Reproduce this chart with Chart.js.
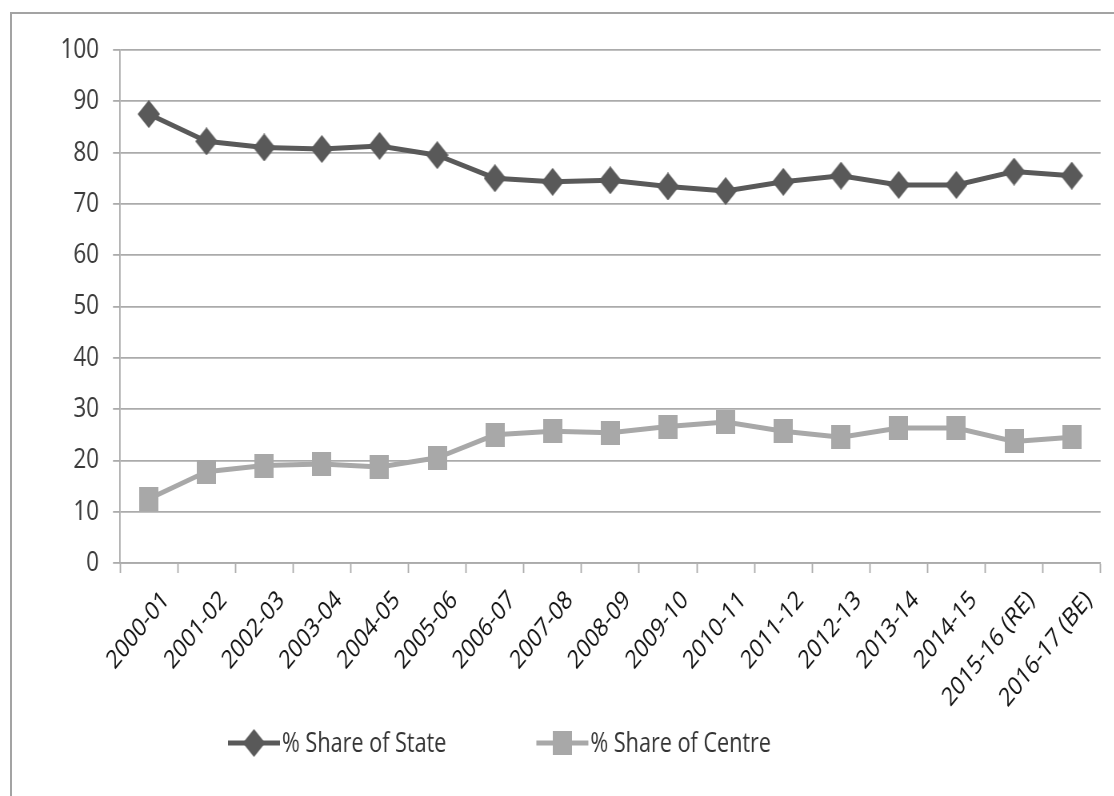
<!DOCTYPE html>
<html>
<head>
<meta charset="utf-8">
<script src="https://cdn.jsdelivr.net/npm/chart.js@4.4.1/dist/chart.umd.min.js"></script>
<style>
  html, body { margin: 0; padding: 0; background: #ffffff; }
  #wrap { position: relative; width: 1114px; height: 796px; overflow: hidden; }
  #frame { position: absolute; left: 10px; top: 12px; right: -10px; bottom: -10px;
           border-top: 2px solid #a3a3a3; border-left: 2px solid #a3a3a3; }
  /* the chart is laid out on a wider canvas and squeezed horizontally,
     which gives the tall, condensed lettering and markers */
  #squeeze { position: absolute; left: 0; top: 0; width: 1392px; height: 796px;
             transform: scaleX(0.8); transform-origin: 0 0; }
  #c { display: block; }
</style>
</head>
<body>
<div id="wrap">
  <div id="frame"></div>
  <div id="squeeze"><canvas id="c" width="1392" height="796"></canvas></div>
</div>
<script>
// Financial years on the category axis
const years = ['2000-01', '2001-02', '2002-03', '2003-04', '2004-05', '2005-06',
  '2006-07', '2007-08', '2008-09', '2009-10', '2010-11', '2011-12', '2012-13',
  '2013-14', '2014-15', '2015-16 (RE)', '2016-17 (BE)'];

// Percentage shares of spending
const stateShare  = [87.5, 82.2, 81.0, 80.7, 81.3, 79.5, 75.0, 74.3, 74.6, 73.4, 72.5, 74.3, 75.5, 73.7, 73.7, 76.3, 75.5];
const centreShare = [12.5, 17.8, 19.0, 19.3, 18.7, 20.5, 25.0, 25.7, 25.4, 26.6, 27.5, 25.7, 24.5, 26.3, 26.3, 23.7, 24.5];

// Value axis
const yMin = 0, yMax = 100, yStep = 10;

const seriesNames = ['% Share of State', '% Share of Centre'];

const SX = 0.8;                 // horizontal squeeze applied by CSS
const px = v => v / SX;         // horizontal page pixels -> canvas pixels

const FONT = '"Open Sans", "Noto Sans", sans-serif';
const STATE_COL = '#595959';
const CENTRE_COL = '#a8a8a8';
const GRID_COL = '#ababab';

// Marker sprites: a diamond and a square (in canvas pixels)
function diamondSprite(w, h, color) {
  const cv = document.createElement('canvas');
  cv.width = w; cv.height = h;
  const g = cv.getContext('2d');
  g.fillStyle = color;
  g.beginPath();
  g.moveTo(w / 2, 0); g.lineTo(w, h / 2); g.lineTo(w / 2, h); g.lineTo(0, h / 2);
  g.closePath(); g.fill();
  return cv;
}
function squareSprite(w, h, color) {
  const cv = document.createElement('canvas');
  cv.width = w; cv.height = h;
  const g = cv.getContext('2d');
  g.fillStyle = color;
  g.fillRect(0, 0, w, h);
  return cv;
}
const diamond = diamondSprite(Math.round(px(22)), 28, STATE_COL);
const square = squareSprite(Math.round(px(19)), 24, CENTRE_COL);

// Legend drawn as line sample + marker + label, below the category labels
const lineLegend = {
  id: 'lineLegend',
  afterDraw(chart) {
    const ctx = chart.ctx;
    const y = 743;
    let x = px(228);
    const sample = px(52);
    ctx.save();
    ctx.font = '27px ' + FONT;
    ctx.textBaseline = 'middle';
    ctx.textAlign = 'left';
    chart.data.datasets.forEach((ds) => {
      ctx.strokeStyle = ds.borderColor;
      ctx.lineWidth = ds.borderWidth;
      ctx.beginPath();
      ctx.moveTo(x, y);
      ctx.lineTo(x + sample, y);
      ctx.stroke();
      const img = ds.pointStyle;
      ctx.drawImage(img, x + sample / 2 - img.width / 2, y - img.height / 2);
      ctx.fillStyle = '#333333';
      ctx.fillText(ds.label, x + sample + px(2), y + 1);
      x += sample + px(2) + ctx.measureText(ds.label).width + px(90);
    });
    ctx.restore();
  }
};

new Chart(document.getElementById('c'), {
  type: 'line',
  data: {
    labels: years,
    datasets: [
      {
        label: seriesNames[0],
        data: stateShare,
        borderColor: STATE_COL,
        backgroundColor: STATE_COL,
        borderWidth: 5,
        pointStyle: diamond,
        tension: 0,
        fill: false
      },
      {
        label: seriesNames[1],
        data: centreShare,
        borderColor: CENTRE_COL,
        backgroundColor: CENTRE_COL,
        borderWidth: 5,
        pointStyle: square,
        tension: 0,
        fill: false
      }
    ]
  },
  options: {
    responsive: false,
    animation: false,
    events: [],
    layout: { padding: { top: 50, right: px(13), left: 0, bottom: 0 } },
    plugins: {
      legend: { display: false },
      tooltip: { enabled: false },
      title: { display: false }
    },
    scales: {
      x: {
        type: 'category',
        offset: true,
        afterFit(axis) { axis.height = 796 - 563; },
        grid: {
          offset: true,
          drawOnChartArea: false,
          drawTicks: true,
          tickLength: 10,
          tickWidth: 1.8,
          tickColor: GRID_COL,
          color: GRID_COL
        },
        border: { display: true, color: GRID_COL, width: 1.8 },
        ticks: {
          autoSkip: false,
          maxRotation: 45,
          minRotation: 45,
          labelOffset: px(17),
          padding: 12,
          color: '#111111',
          font: { family: FONT, size: 26 }
        }
      },
      y: {
        min: yMin,
        max: yMax,
        afterFit(axis) { axis.width = px(120); },
        grid: {
          color: GRID_COL,
          lineWidth: 1.8,
          drawTicks: true,
          tickLength: px(7)
        },
        border: { display: true, color: GRID_COL, width: 1.8 },
        ticks: {
          stepSize: yStep,
          padding: px(14),
          color: '#3a3a3a',
          font: { family: FONT, size: 28 }
        }
      }
    }
  },
  plugins: [lineLegend]
});
</script>
</body>
</html>
